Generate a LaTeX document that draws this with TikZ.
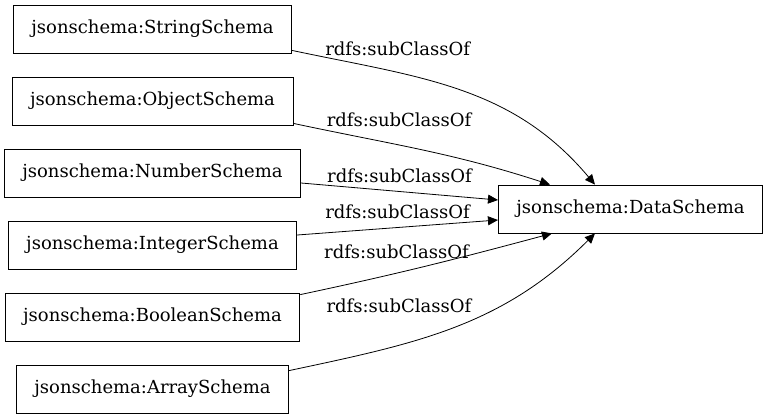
\documentclass[tikz,border=0pt]{standalone}
\usepackage{fontspec}
\setmainfont{DejaVu Serif}
\usetikzlibrary{positioning,arrows.meta}

\begin{document}
\begin{tikzpicture}[
    x=0.5pt, y=-0.5pt,
    node distance=36pt,
    cls/.style={rectangle, draw, thin,
                inner xsep=9pt,
                minimum height=24pt,
                font=\fontsize{9}{10}\selectfont},
    lbl/.style={font=\fontsize{9}{10}\selectfont, inner sep=1pt},
    subcls/.style={-{Triangle[length=5pt,width=4.5pt]}, thin}
]
\useasboundingbox (0,0) rectangle (767,419);

\node[cls] (string) at (152.5,29) {jsonschema:StringSchema};
\node[cls] (object) [below of=string] {jsonschema:ObjectSchema};
\node[cls] (number) [below of=object] {jsonschema:NumberSchema};
\node[cls] (integer) [below of=number] {jsonschema:IntegerSchema};
\node[cls] (boolean) [below of=integer] {jsonschema:BooleanSchema};
\node[cls] (array) [below of=boolean] {jsonschema:ArraySchema};
\node[cls] (data) at (630.5,209) {jsonschema:DataSchema};

\draw[subcls] ([yshift=1.5pt]string.south east) to[out=-12,in=130]
    node[lbl, pos=0.3, above=7pt] {rdfs:subClassOf} ([xshift=48.5pt]data.north west);
\draw[subcls] ([yshift=1pt]object.south east) to[out=-12,in=162]
    node[lbl, pos=0.4, above=8pt] {rdfs:subClassOf} ([xshift=26pt]data.north west);
\draw[subcls] ([yshift=-5pt]number.east) --
    node[lbl, pos=0.5, above=3pt] {rdfs:subClassOf} ([yshift=4.5pt]data.west);
\draw[subcls] ([yshift=5pt]integer.east) --
    node[lbl, pos=0.5, above=3pt] {rdfs:subClassOf} ([yshift=-5.5pt]data.west);
\draw[subcls] ([yshift=-1pt]boolean.north east) to[out=12,in=-165]
    node[lbl, pos=0.37, above=6pt] {rdfs:subClassOf} ([xshift=27pt]data.south west);
\draw[subcls] ([yshift=-3pt]array.north east) to[out=12,in=-135]
    node[lbl, pos=0.315, above=15pt] {rdfs:subClassOf} ([xshift=48.5pt]data.south west);
\end{tikzpicture}
\end{document}
